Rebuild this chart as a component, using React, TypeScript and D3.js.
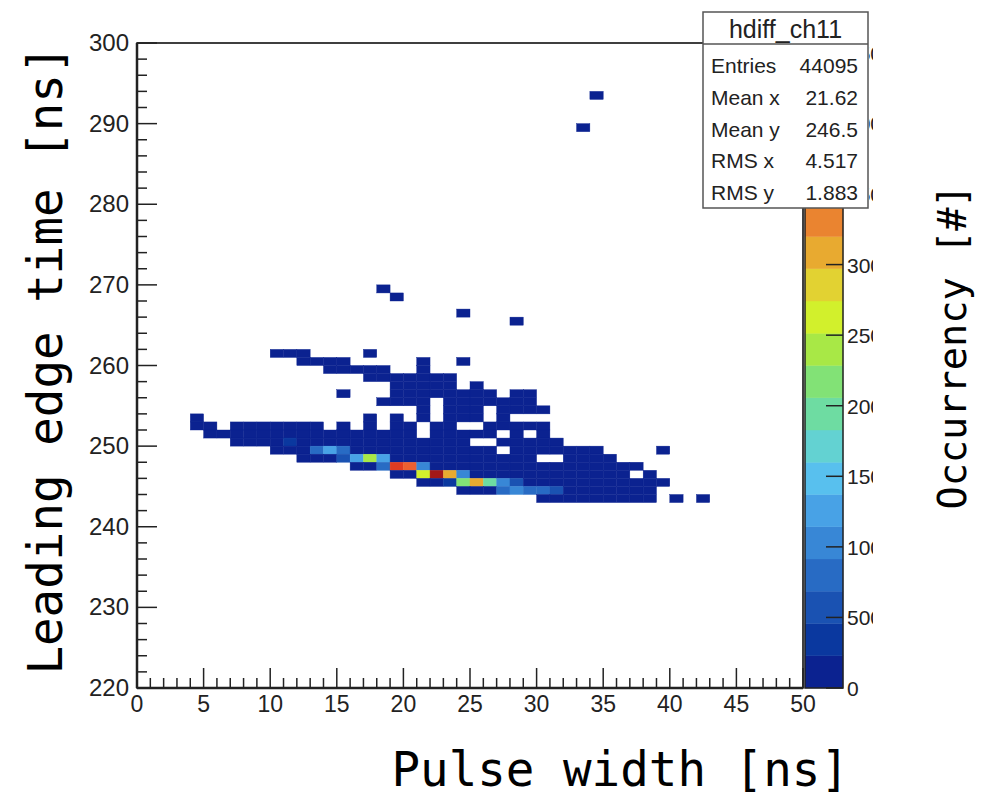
import * as d3 from 'd3'

// histogram binning: 1 ns x 1 ns
const xDomain: [number, number] = [0, 50]
const yDomain: [number, number] = [220, 300]
const xTicks = d3.range(0, 51, 5)
const yTicks = d3.range(220, 301, 10)
const zMax = 4570
const zTicks = d3.range(0, 4501, 500)
const nContours = 20

// occupied bins in the lowest contour: [y bin low edge, runs of x bins [from, to]]
const lowRuns: [number, [number, number][]][] = [
  [293, [[34, 34]]],
  [289, [[33, 33]]],
  [269, [[18, 18]]],
  [268, [[19, 19]]],
  [266, [[24, 24]]],
  [265, [[28, 28]]],
  [261, [[10, 12], [17, 17]]],
  [260, [[12, 15], [21, 21], [24, 24]]],
  [259, [[14, 18], [21, 21]]],
  [258, [[17, 23]]],
  [257, [[19, 23], [25, 25]]],
  [256, [[15, 15], [19, 26], [28, 29]]],
  [255, [[18, 21], [23, 29]]],
  [254, [[21, 21], [23, 25], [27, 30]]],
  [253, [[4, 4], [17, 17], [19, 19], [21, 21], [23, 25], [27, 27]]],
  [252, [[4, 5], [7, 13], [15, 15], [17, 17], [19, 20], [22, 23], [26, 30]]],
  [251, [[5, 20], [22, 26], [28, 28], [30, 30]]],
  [250, [[7, 24], [27, 31]]],
  [249, [[10, 26], [28, 34], [39, 39]]],
  [248, [[12, 29], [32, 35]]],
  [247, [[16, 37]]],
  [246, [[19, 36], [38, 38]]],
  [245, [[21, 39]]],
  [244, [[24, 38]]],
  [243, [[30, 38], [40, 40], [42, 42]]],
]
const lowCount = 90

// bins above the first contour: [x low edge, y low edge, entries]
const hotBins: [number, number, number][] = [
  [11, 250, 340],
  [13, 249, 800], [14, 249, 1260], [15, 249, 800],
  [15, 248, 570], [16, 248, 1260], [17, 248, 2400], [18, 248, 1260],
  [18, 247, 800], [19, 247, 3770], [20, 247, 3540], [21, 247, 1030],
  [21, 246, 2630], [22, 246, 4220], [23, 246, 3080], [24, 246, 1030],
  [23, 245, 340], [24, 245, 2170], [25, 245, 3080], [26, 245, 1940], [27, 245, 1030], [28, 245, 570],
  [27, 244, 800], [28, 244, 1030], [29, 244, 800], [30, 244, 800], [31, 244, 570],
]

const statsTitle = 'hdiff_ch11'
const statsRows: [string, string][] = [
  ['Entries', '44095'],
  ['Mean x', '21.62'],
  ['Mean y', '246.5'],
  ['RMS x', '4.517'],
  ['RMS y', '1.883'],
]

// one colour per contour, bottom to top
const palette = [
  '#0b2290', '#0a389f', '#1a52b2', '#286bc4', '#3887d6',
  '#48a2e6', '#58c0ee', '#63d2d2', '#6edca2', '#82e276',
  '#a8e846', '#d2f02c', '#e2d232', '#e8aa30', '#ea8430',
  '#ec6030', '#e03c22', '#c42818', '#a31818', '#821010',
]

const countLevel = (n: number) => Math.min(nContours - 1, Math.floor((n / zMax) * nContours))

export default function App() {
  const frame = { left: 137, right: 803, top: 43, bottom: 688 }
  const pal = { left: 805, right: 843 }
  const box = { left: 703, right: 868, top: 12, bottom: 208 }

  const x = d3.scaleLinear().domain(xDomain).range([frame.left, frame.right])
  const y = d3.scaleLinear().domain(yDomain).range([frame.bottom, frame.top])
  const z = d3.scaleLinear().domain([0, zMax]).range([frame.bottom, frame.top])

  // collect bins
  const binMap = new Map<string, { bx: number; by: number; n: number }>()
  lowRuns.forEach(([by, runs]) => {
    runs.forEach(([a, b]) => {
      for (let bx = a; bx <= b; bx++) binMap.set(`${bx},${by}`, { bx, by, n: lowCount })
    })
  })
  hotBins.forEach(([bx, by, n]) => binMap.set(`${bx},${by}`, { bx, by, n }))
  const bins = Array.from(binMap.values())

  const xMinor = d3.range(0, 51, 1).filter(d => d % 5 !== 0)
  const yMinor = d3.range(220, 301, 2).filter(d => d % 10 !== 0)
  const levels = d3.range(nContours)

  const font = 'Liberation Sans, Arial, Helvetica, sans-serif'
  const mono = 'DejaVu Sans Mono, monospace'
  const labelClipRight = 873

  return (
    <svg width={990} height={798} style={{ position: 'absolute', left: 0, top: 0, background: '#fff' }}>
      <defs>
        {/* palette labels run past the pad edge and are cut there */}
        <clipPath id="palLabels">
          <rect x={pal.right} y={box.bottom + 1} width={labelClipRight - pal.right} height={798 - box.bottom} />
          <rect x={box.right + 1} y={0} width={labelClipRight - box.right - 1} height={box.bottom + 1} />
        </clipPath>
      </defs>

      {/* bins */}
      <g>
        {bins.map(d => {
          const c = palette[countLevel(d.n)]
          return (
            <rect
              key={`${d.bx},${d.by}`}
              x={x(d.bx)}
              y={y(d.by + 1)}
              width={x(d.bx + 1) - x(d.bx)}
              height={y(d.by) - y(d.by + 1)}
              fill={c}
              stroke={c}
              strokeWidth={0.4}
            />
          )
        })}
      </g>

      {/* frame */}
      <rect
        x={frame.left}
        y={frame.top}
        width={frame.right - frame.left}
        height={frame.bottom - frame.top}
        fill="none"
        stroke="#000"
        strokeWidth={1.5}
      />
      <line x1={frame.left} x2={frame.left} y1={frame.top} y2={frame.bottom} stroke="#222" strokeWidth={2.5} />
      <line x1={frame.left} x2={frame.right} y1={frame.bottom} y2={frame.bottom} stroke="#222" strokeWidth={2.5} />

      {/* x axis ticks */}
      {xTicks.map(t => (
        <g key={`xt${t}`}>
          <line x1={x(t)} x2={x(t)} y1={frame.bottom} y2={frame.bottom - 20} stroke="#222" strokeWidth={1.5} />
          <text x={x(t)} y={712} textAnchor="middle" fontFamily={font} fontSize={23} fill="#222">
            {t}
          </text>
        </g>
      ))}
      {xMinor.map(t => (
        <line key={`xm${t}`} x1={x(t)} x2={x(t)} y1={frame.bottom} y2={frame.bottom - 10} stroke="#222" strokeWidth={1.5} />
      ))}

      {/* y axis ticks */}
      {yTicks.map(t => (
        <g key={`yt${t}`}>
          <line x1={frame.left} x2={frame.left + 20} y1={y(t)} y2={y(t)} stroke="#222" strokeWidth={1.5} />
          <text x={129} y={y(t) + 8} textAnchor="end" fontFamily={font} fontSize={24} fill="#222">
            {t}
          </text>
        </g>
      ))}
      {yMinor.map(t => (
        <line key={`ym${t}`} x1={frame.left} x2={frame.left + 10} y1={y(t)} y2={y(t)} stroke="#222" strokeWidth={1.5} />
      ))}

      {/* palette */}
      <g>
        {levels.map(k => (
          <rect
            key={`pal${k}`}
            x={pal.left}
            y={z(((k + 1) * zMax) / nContours)}
            width={pal.right - pal.left}
            height={z((k * zMax) / nContours) - z(((k + 1) * zMax) / nContours)}
            fill={palette[k]}
            stroke={palette[k]}
            strokeWidth={0.4}
          />
        ))}
        <rect
          x={pal.left}
          y={frame.top}
          width={pal.right - pal.left}
          height={frame.bottom - frame.top}
          fill="none"
          stroke="#222"
          strokeWidth={1.5}
        />
        {zTicks.map(t => (
          <line key={`zt${t}`} x1={pal.right} x2={pal.right - 17} y1={z(t)} y2={z(t)} stroke="#222" strokeWidth={1.5} />
        ))}
        <g clipPath="url(#palLabels)">
          {zTicks.map(t => (
            <text key={`zl${t}`} x={847} y={z(t) + 8} fontFamily={font} fontSize={21} fill="#222">
              {t}
            </text>
          ))}
        </g>
      </g>

      {/* stats box */}
      <g>
        <rect
          x={box.left}
          y={box.top}
          width={box.right - box.left}
          height={box.bottom - box.top}
          fill="#fff"
          stroke="#555"
          strokeWidth={1.5}
        />
        <line x1={box.left} x2={box.right} y1={44} y2={44} stroke="#555" strokeWidth={1.5} />
        <text x={(box.left + box.right) / 2} y={38} textAnchor="middle" fontFamily={font} fontSize={25} fill="#222">
          {statsTitle}
        </text>
        {statsRows.map(([label, value], i) => (
          <g key={label}>
            <text x={711} y={73 + i * 31.75} fontFamily={font} fontSize={21} fill="#222">
              {label}
            </text>
            <text x={858} y={73 + i * 31.75} textAnchor="end" fontFamily={font} fontSize={21} fill="#222">
              {value}
            </text>
          </g>
        ))}
      </g>

      {/* axis titles */}
      <text x={849} y={786} textAnchor="end" fontFamily={mono} fontSize={47.5} fill="#000">
        Pulse width [ns]
      </text>
      <text transform="translate(62,360) rotate(-90)" textAnchor="middle" fontFamily={mono} fontSize={47.5} fill="#000">
        Leading edge time [ns]
      </text>
      <text transform="translate(966,347) rotate(-90)" textAnchor="middle" fontFamily={mono} fontSize={38.6} fill="#000">
        Occurrency [#]
      </text>
    </svg>
  )
}
